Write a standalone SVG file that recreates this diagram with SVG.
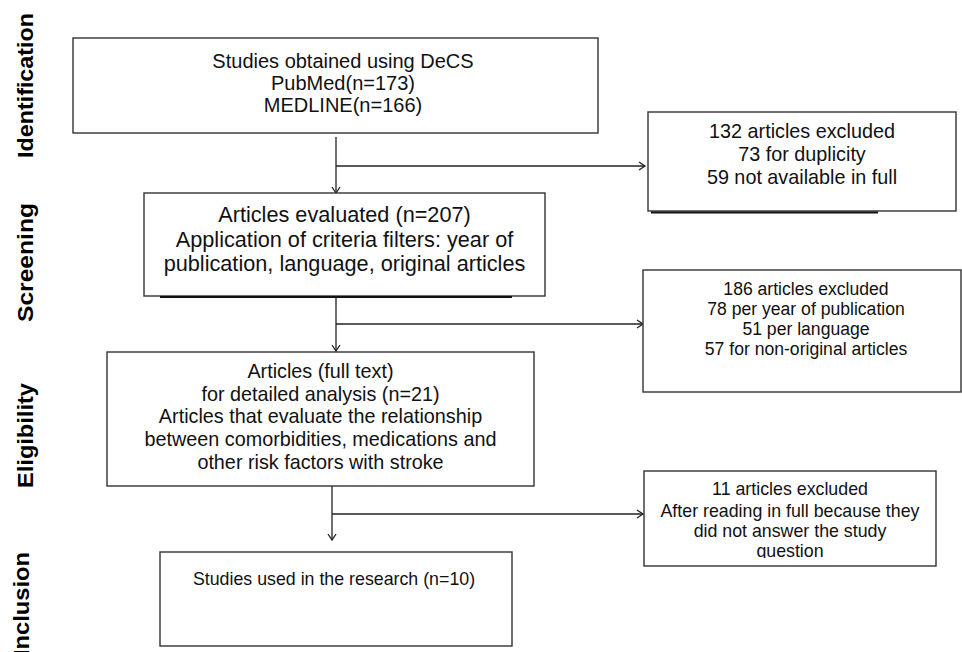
<svg xmlns="http://www.w3.org/2000/svg" width="962" height="652" viewBox="0 0 962 652">
<style>
.box{fill:#fff;stroke:#333;stroke-width:1.4}
.conn{fill:none;stroke:#222;stroke-width:1.3}
.t{font-family:"Liberation Sans",Arial,sans-serif;fill:#111;text-anchor:middle}
.side{font-family:"Liberation Sans",Arial,sans-serif;font-weight:bold;fill:#000;text-anchor:middle;font-size:22px}
.shadow{stroke:#111;stroke-width:2.2}
</style>
<defs>
<marker id="arr" markerWidth="10" markerHeight="10" refX="7" refY="5" orient="auto" markerUnits="userSpaceOnUse">
<path d="M1,1 L7,5 L1,9" fill="none" stroke="#222" stroke-width="1.3"/>
</marker>
<clipPath id="clipQ"><rect x="640" y="460" width="300" height="98"/></clipPath>
</defs>

<g id="labels">
<text class="side" transform="translate(33,85.5) rotate(-90)" textLength="145" lengthAdjust="spacingAndGlyphs">Identification</text>
<text class="side" transform="translate(33,262.5) rotate(-90)" textLength="119" lengthAdjust="spacingAndGlyphs">Screening</text>
<text class="side" transform="translate(33,435.5) rotate(-90)" textLength="105" lengthAdjust="spacingAndGlyphs">Eligibility</text>
<text class="side" transform="translate(29,604) rotate(-90)" textLength="104" lengthAdjust="spacingAndGlyphs">Inclusion</text>
</g>

<g id="connectors">
<path class="conn" d="M336,137 V193" marker-end="url(#arr)"/>
<path class="conn" d="M336,166 H645" marker-end="url(#arr)"/>
<path class="conn" d="M336,296 V351" marker-end="url(#arr)"/>
<path class="conn" d="M336,324 H643" marker-end="url(#arr)"/>
<path class="conn" d="M332,486 V540" marker-end="url(#arr)"/>
<path class="conn" d="M332,514 H643" marker-end="url(#arr)"/>
</g>

<g id="n1">
<rect class="box" x="73" y="38" width="525" height="95"/>
<text class="t" font-size="20" x="343" y="68">Studies obtained using DeCS</text>
<text class="t" font-size="20" x="343" y="90">PubMed(n=173)</text>
<text class="t" font-size="20" x="343" y="112">MEDLINE(n=166)</text>
</g>

<g id="e1">
<rect class="box" x="648" y="112" width="308" height="99"/>
<line class="shadow" x1="651" y1="212.5" x2="878" y2="212.5"/>
<text class="t" font-size="19.8" x="802" y="138">132 articles excluded</text>
<text class="t" font-size="19.8" x="802" y="161">73 for duplicity</text>
<text class="t" font-size="19.8" x="802" y="184">59 not available in full</text>
</g>

<g id="n2">
<rect class="box" x="144" y="193" width="401" height="103"/>
<line class="shadow" x1="160" y1="297" x2="512" y2="297" stroke-width="1.6"/>
<text class="t" font-size="21.7" x="344.5" y="222">Articles evaluated (n=207)</text>
<text class="t" font-size="21.7" x="344.5" y="247">Application of criteria filters: year of</text>
<text class="t" font-size="21.7" x="344.5" y="271">publication, language, original articles</text>
</g>

<g id="e2">
<rect class="box" x="643" y="270" width="318" height="122"/>
<text class="t" font-size="17.6" x="806" y="295">186 articles excluded</text>
<text class="t" font-size="17.6" x="806" y="315">78 per year of publication</text>
<text class="t" font-size="17.6" x="806" y="335">51 per language</text>
<text class="t" font-size="17.6" x="806" y="355">57 for non-original articles</text>
</g>

<g id="n3">
<rect class="box" x="107" y="352" width="427" height="134"/>
<text class="t" font-size="19.8" x="320.5" y="378">Articles (full text)</text>
<text class="t" font-size="19.8" x="320.5" y="401">for detailed analysis (n=21)</text>
<text class="t" font-size="19.8" x="320.5" y="423">Articles that evaluate the relationship</text>
<text class="t" font-size="19.8" x="320.5" y="446">between comorbidities, medications and</text>
<text class="t" font-size="19.8" x="320.5" y="469">other risk factors with stroke</text>
</g>

<g id="e3">
<rect class="box" x="644" y="471" width="292" height="95"/>
<g clip-path="url(#clipQ)">
<text class="t" font-size="17.8" x="790" y="495">11 articles excluded</text>
<text class="t" font-size="17.8" x="790" y="517">After reading in full because they</text>
<text class="t" font-size="17.8" x="790" y="537">did not answer the study</text>
<text class="t" font-size="17.8" x="790" y="557">question</text>
</g>
</g>

<g id="n4">
<rect class="box" x="160" y="552" width="352" height="94"/>
<text class="t" font-size="17.8" x="334" y="585">Studies used in the research (n=10)</text>
</g>
</svg>
